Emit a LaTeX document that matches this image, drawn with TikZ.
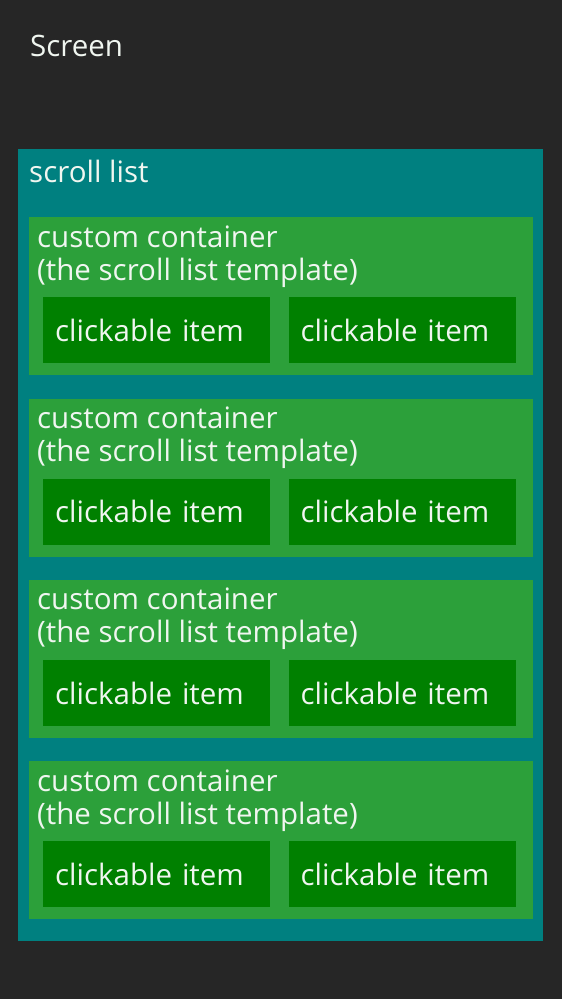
\documentclass[tikz,border=0pt]{standalone}
\usepackage{fontspec}
\setmainfont{Open Sans}
\usepackage{xcolor}
\usetikzlibrary{positioning}
\definecolor{screenbg}{RGB}{38,38,38}
\definecolor{listteal}{RGB}{0,128,128}
\definecolor{boxgreen}{RGB}{44,160,58}
\definecolor{itemgreen}{RGB}{0,128,0}
\definecolor{labelwhite}{RGB}{240,246,240}
\begin{document}
\begin{tikzpicture}[
    x=1pt, y=-1pt,
    node distance=23pt,
    every node/.style={font=\fontsize{29.5}{33}\selectfont, text=labelwhite},
    listbox/.style={fill=listteal, minimum width=525pt, minimum height=792pt, inner sep=0pt, anchor=north west},
    container/.style={fill=boxgreen, minimum width=504pt, minimum height=158pt, inner sep=0pt},
    clickitem/.style={fill=itemgreen, minimum width=227pt, minimum height=66pt, text width=203pt, inner xsep=12pt, inner ysep=0pt, align=left},
    caption/.style={inner sep=0pt, align=left, anchor=base west}
  ]
    \fill[screenbg] (0,0) rectangle (562,999);
    \node[caption] (screen) at (30,56) {Screen};
    \node[listbox] (list) at (18,149) {};
    \node[caption] (listname) at (29,182) {scroll list};
    \node[container, anchor=north west] (cont1) at (29,217) {};
    \node[container, below=of cont1] (cont2) {};
    \node[container, below=of cont2] (cont3) {};
    \node[container, below=of cont3] (cont4) {};
    \node[caption] (cont1name) at ([shift={(8,63)}]cont1.north west) {custom container\\(the scroll list template)};
    \node[caption] (cont2name) at ([shift={(8,63)}]cont2.north west) {custom container\\(the scroll list template)};
    \node[caption] (cont3name) at ([shift={(8,63)}]cont3.north west) {custom container\\(the scroll list template)};
    \node[caption] (cont4name) at ([shift={(8,63)}]cont4.north west) {custom container\\(the scroll list template)};
    \node[clickitem, anchor=north west] (item1a) at ([shift={(14,80)}]cont1.north west) {clickable item};
    \node[clickitem, right=18pt of item1a] (item1b) {clickable item};
    \node[clickitem, anchor=north west] (item2a) at ([shift={(14,80)}]cont2.north west) {clickable item};
    \node[clickitem, right=18pt of item2a] (item2b) {clickable item};
    \node[clickitem, anchor=north west] (item3a) at ([shift={(14,80)}]cont3.north west) {clickable item};
    \node[clickitem, right=18pt of item3a] (item3b) {clickable item};
    \node[clickitem, anchor=north west] (item4a) at ([shift={(14,80)}]cont4.north west) {clickable item};
    \node[clickitem, right=18pt of item4a] (item4b) {clickable item};
  \end{tikzpicture}
\end{document}
